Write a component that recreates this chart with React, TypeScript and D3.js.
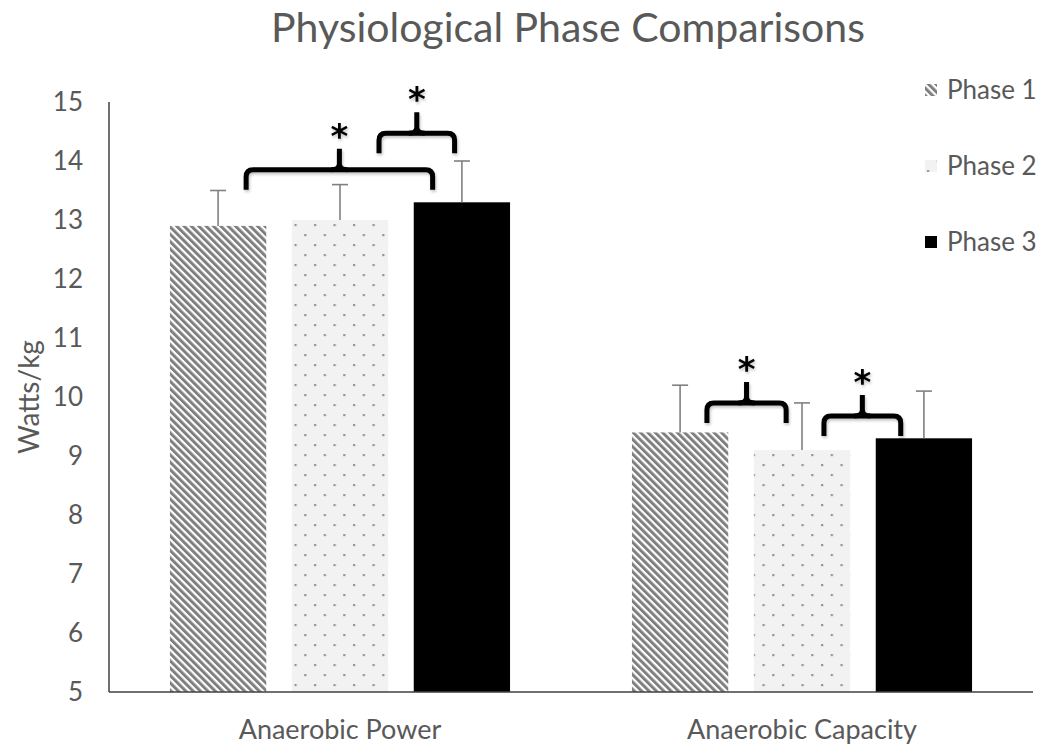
import React from "react";
import * as d3 from "d3";

// Chart data
const categories = ["Anaerobic Power", "Anaerobic Capacity"];
const phases = ["Phase 1", "Phase 2", "Phase 3"];
const phase1Values = [12.9, 9.4];
const phase2Values = [13.0, 9.1];
const phase3Values = [13.3, 9.3];
const phase1Errors = [0.6, 0.8];
const phase2Errors = [0.6, 0.8];
const phase3Errors = [0.7, 0.8];
const yTicks = [5, 6, 7, 8, 9, 10, 11, 12, 13, 14, 15];

// Significance braces: category index, span in bar-index units, brace level in Watts/kg
const braceCategory = [0, 0, 1, 1];
const braceFrom = [0.23, 1.32, 0.22, 1.18];
const braceTo = [1.76, 1.94, 0.87, 1.81];
const braceLevel = [13.85, 14.47, 9.9, 9.68];

const W = 1043;
const H = 748;
const margin = { left: 109, right: 10, top: 102, bottom: 56 };
const textColor = "#595959";
const font = "Lato, 'Open Sans', sans-serif";

export default function App() {
  const values = [phase1Values, phase2Values, phase3Values];
  const errors = [phase1Errors, phase2Errors, phase3Errors];
  const fills = ["url(#stripes)", "url(#dots)", "#000000"];

  const x0 = d3
    .scaleBand<string>()
    .domain(categories)
    .range([margin.left, W - margin.right])
    .padding(0);
  const x1 = d3
    .scaleBand<string>()
    .domain(phases)
    .range([0, x0.bandwidth()])
    .paddingInner(0.21)
    .paddingOuter(0.5);
  const y = d3
    .scaleLinear()
    .domain([5, 15])
    .range([H - margin.bottom, margin.top]);

  const barCenter = (ci: number, pos: number) => {
    const c0 = x0(categories[ci])! + x1(phases[0])! + x1.bandwidth() / 2;
    return c0 + pos * x1.step();
  };

  const bracePath = (xa: number, xb: number, yh: number) => {
    const r = 7;
    const drop = 20;
    return `M${xa},${yh + drop} L${xa},${yh + r} Q${xa},${yh} ${xa + r},${yh} L${xb - r},${yh} Q${xb},${yh} ${xb},${yh + r} L${xb},${yh + drop}`;
  };
  const tipPath = (xm: number, yh: number) => {
    const r = 6;
    const tip = 21;
    return `M${xm - r - 2},${yh} Q${xm},${yh} ${xm},${yh - r} L${xm},${yh - tip} M${xm + r + 2},${yh} Q${xm},${yh} ${xm},${yh - r}`;
  };

  return (
    <svg width={W} height={H} style={{ display: "block", position: "absolute", left: 0, top: 0 }}>
      <defs>
        <pattern
          id="stripes"
          patternUnits="userSpaceOnUse"
          width={5.2}
          height={5.2}
          patternTransform="rotate(-45)"
        >
          <rect width={5.2} height={5.2} fill="#ffffff" />
          <rect width={3} height={5.2} fill="#7f7f7f" />
        </pattern>
        <pattern id="dots" patternUnits="userSpaceOnUse" width={19.5} height={20}>
          <rect width={19.5} height={20} fill="#f2f2f2" />
          <rect x={2} y={4} width={2.2} height={2.2} fill="#959595" />
          <rect x={11.75} y={14} width={2.2} height={2.2} fill="#959595" />
        </pattern>
        <filter id="shadow" x="-20%" y="-40%" width="140%" height="180%">
          <feGaussianBlur in="SourceAlpha" stdDeviation={1.5} />
          <feOffset dx={1} dy={2} result="b" />
          <feComponentTransfer>
            <feFuncA type="linear" slope={0.25} />
          </feComponentTransfer>
          <feMerge>
            <feMergeNode />
            <feMergeNode in="SourceGraphic" />
          </feMerge>
        </filter>
      </defs>
      <rect width={W} height={H} fill="#ffffff" />

      {/* Title */}
      <text x={568} y={42} textAnchor="middle" fontFamily={font} fontSize={41} fill={textColor}>
        Physiological Phase Comparisons
      </text>

      {/* Y tick labels */}
      {yTicks.map((t) => (
        <text
          key={t}
          x={83}
          y={y(t)}
          dy="0.36em"
          textAnchor="end"
          fontFamily={font}
          fontSize={26}
          fill={textColor}
        >
          {t}
        </text>
      ))}

      {/* Y axis title */}
      <text
        transform={`translate(39,${(y(5) + y(15)) / 2}) rotate(-90)`}
        textAnchor="middle"
        fontFamily={font}
        fontSize={28}
        fill={textColor}
      >
        Watts/kg
      </text>

      {/* Bars */}
      {categories.map((c, ci) => (
        <g key={c}>
          {phases.map((p, pi) => {
            const bx = x0(c)! + x1(p)!;
            const v = values[pi][ci];
            return (
              <rect
                key={p}
                x={bx}
                y={y(v)}
                width={x1.bandwidth()}
                height={y(5) - y(v)}
                fill={fills[pi]}
              />
            );
          })}
          {phases.map((p, pi) => {
            const cx = x0(c)! + x1(p)! + x1.bandwidth() / 2;
            const v = values[pi][ci];
            const e = errors[pi][ci];
            return (
              <g key={p + "err"} stroke="#808080" strokeWidth={1.6}>
                <line x1={cx} x2={cx} y1={y(v)} y2={y(v + e)} />
                <line x1={cx - 8} x2={cx + 8} y1={y(v + e)} y2={y(v + e)} />
              </g>
            );
          })}
        </g>
      ))}

      {/* Axes */}
      <line x1={margin.left} x2={margin.left} y1={y(15)} y2={y(5)} stroke="#404040" strokeWidth={1.5} />
      <line
        x1={margin.left}
        x2={W - margin.right}
        y1={y(5)}
        y2={y(5)}
        stroke="#404040"
        strokeWidth={1.5}
      />

      {/* Category labels */}
      {categories.map((c) => (
        <text
          key={c}
          x={x0(c)! + x0.bandwidth() / 2}
          y={739}
          textAnchor="middle"
          fontFamily={font}
          fontSize={27}
          fill={textColor}
        >
          {c}
        </text>
      ))}

      {/* Significance braces */}
      {braceCategory.map((ci, i) => {
        const xa = barCenter(ci, braceFrom[i]);
        const xb = barCenter(ci, braceTo[i]);
        const xm = (xa + xb) / 2;
        const yh = y(braceLevel[i]);
        return (
          <g key={"brace" + i} filter="url(#shadow)">
            <path d={bracePath(xa, xb, yh)} fill="none" stroke="#000" strokeWidth={5} />
            <path d={tipPath(xm, yh)} fill="none" stroke="#000" strokeWidth={5} />
            <text
              x={xm}
              y={yh - 22}
              textAnchor="middle"
              fontFamily="'DejaVu Sans', sans-serif"
              fontWeight="bold"
              fontSize={34}
              fill="#000"
            >
              *
            </text>
          </g>
        );
      })}

      {/* Legend */}
      {phases.map((p, pi) => (
        <g key={p + "leg"} transform={`translate(925,${90 + pi * 76})`}>
          <rect x={0} y={-6} width={12} height={12} fill={fills[pi]} />
          <text x={22} y={0} dy="0.36em" fontFamily={font} fontSize={26} fill={textColor}>
            {p}
          </text>
        </g>
      ))}
    </svg>
  );
}
